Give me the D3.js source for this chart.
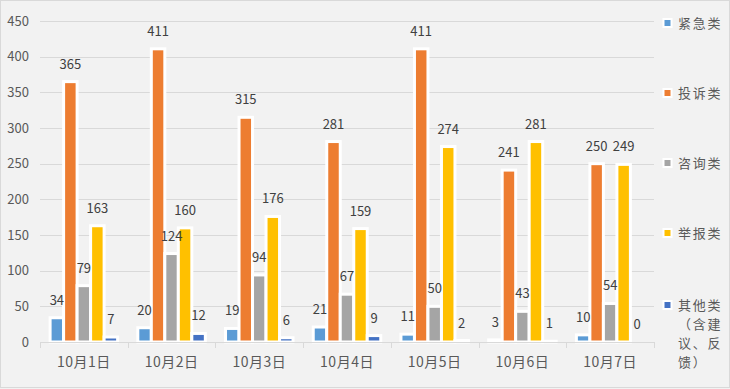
<!DOCTYPE html>
<html><head><meta charset="utf-8">
<script src="https://cdn.jsdelivr.net/npm/d3@7"></script>
<style>
html,body{margin:0;padding:0;background:#f2f2f2;}
svg{display:block;}
text{font-family:"Noto Sans CJK SC","Microsoft YaHei",sans-serif;}
</style></head>
<body>
<svg id="chart" width="730" height="389"></svg>
<script>
const categories = ["10月1日","10月2日","10月3日","10月4日","10月5日","10月6日","10月7日"];
const seriesNames = ["紧急类","投诉类","咨询类","举报类","其他类（含建议、反馈）"];
const seriesColors = ["#5B9BD5","#ED7D31","#A5A5A5","#FFC000","#4472C4"];
const urgent    = [34,20,19,21,11,3,10];
const complaint = [365,411,315,281,411,241,250];
const consult   = [79,124,94,67,50,43,54];
const report    = [163,160,176,159,274,281,249];
const other     = [7,12,6,9,2,1,0];
const yTicks = [0,50,100,150,200,250,300,350,400,450];
const legendLines = [["紧急类"],["投诉类"],["咨询类"],["举报类"],["其他类","（含建","议、反","馈）"]];

const seriesValues = [urgent, complaint, consult, report, other];

const svg = d3.select("#chart");
svg.append("rect").attr("x",0.5).attr("y",0.5).attr("width",729).attr("height",387)
  .attr("fill","#f2f2f2").attr("stroke","#d9d9d9");

const x = d3.scaleBand().domain(categories).range([40,654]).padding(0);
const y = d3.scaleLinear().domain([0,450]).range([342,21]);
const bw = x.bandwidth();
const xs = d3.scaleBand().domain(d3.range(5)).range([10.1, bw-10.1]).padding(0);

// gridlines
svg.append("g").selectAll("line").data(yTicks.filter(d=>d>0)).join("line")
  .attr("x1",40).attr("x2",654).attr("y1",d=>Math.round(y(d))+0.5).attr("y2",d=>Math.round(y(d))+0.5)
  .attr("stroke","#d9d9d9").attr("stroke-width",1);

// y tick labels
svg.append("g").selectAll("text").data(yTicks).join("text")
  .attr("x",29).attr("y",d=>y(d)).attr("dy","0.36em").attr("text-anchor","end")
  .attr("font-size",13).attr("fill","#595959").text(d=>d);

// bars
const groups = svg.append("g").selectAll("g").data(categories).join("g")
  .attr("transform",c=>`translate(${x(c)},0)`);
groups.each(function(c,ci){
  const g = d3.select(this);
  seriesValues.forEach((vals,si)=>{
    const v = vals[ci];
    g.append("rect").attr("x",xs(si)).attr("width",xs.bandwidth())
      .attr("y",y(v)).attr("height",y(0)-y(v))
      .attr("fill",seriesColors[si]).attr("stroke","#ffffff").attr("stroke-width",3);
  });
});
groups.each(function(c,ci){
  const g = d3.select(this);
  seriesValues.forEach((vals,si)=>{
    const v = vals[ci];
    g.append("text").attr("x",xs(si)+xs.bandwidth()/2).attr("y",y(v)-13)
      .attr("text-anchor","middle").attr("font-size",13).attr("fill","#404040").text(v);
  });
});

// x axis
svg.append("line").attr("x1",40).attr("x2",654).attr("y1",342.5).attr("y2",342.5)
  .attr("stroke","#d9d9d9").attr("stroke-width",1);
const bounds = categories.map(c=>x(c)).concat([654]);
svg.append("g").selectAll("line").data(bounds).join("line")
  .attr("x1",d=>Math.round(d)+0.5).attr("x2",d=>Math.round(d)+0.5).attr("y1",342).attr("y2",348)
  .attr("stroke","#d9d9d9");
svg.append("g").selectAll("text").data(categories).join("text")
  .attr("x",c=>x(c)+bw/2).attr("y",362).attr("dy","0.36em").attr("text-anchor","middle")
  .attr("font-size",14).attr("letter-spacing",0.5).attr("fill","#595959").text(c=>c);

// legend
const legendY = [23,93,163,233,305];
const lg = svg.append("g").selectAll("g").data(seriesNames).join("g")
  .attr("transform",(d,i)=>`translate(662,${legendY[i]})`);
lg.append("rect").attr("x",1.5).attr("y",-4).attr("width",8).attr("height",8)
  .attr("fill",(d,i)=>seriesColors[i]).attr("stroke","#fff").attr("stroke-width",2);
lg.each(function(d,i){
  const t = d3.select(this).append("text").attr("x",16).attr("y",0)
    .attr("font-size",13).attr("letter-spacing",1.7).attr("fill","#595959");
  legendLines[i].forEach((line,li)=>{
    t.append("tspan").attr("x",16).attr("y",li*19).attr("dy","0.36em").text(line);
  });
});
</script>
</body></html>
